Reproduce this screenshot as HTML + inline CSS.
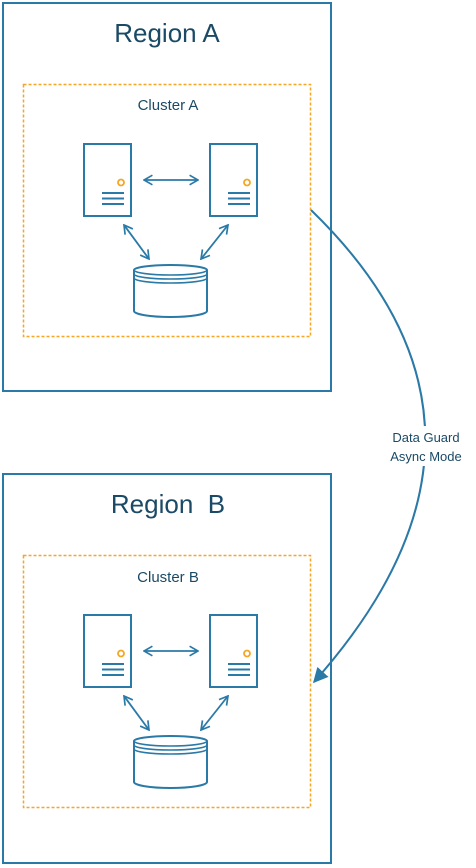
<!DOCTYPE html>
<html><head><meta charset="utf-8"><style>
html,body{margin:0;padding:0;background:#fff;}
svg{display:block;}
text{font-family:"Liberation Sans",sans-serif;fill:#1a4a66;}
</style></head><body>
<svg width="476" height="868" viewBox="0 0 476 868" xmlns="http://www.w3.org/2000/svg">
<defs>
<marker id="ah" viewBox="0 0 10 10" refX="9" refY="5" markerWidth="12" markerHeight="12" orient="auto-start-reverse" markerUnits="userSpaceOnUse">
<path d="M2,1 L9,5 L2,9" fill="none" stroke="#2a79a6" stroke-width="1.4"/>
</marker>
<marker id="fa" viewBox="0 0 10 10" refX="9" refY="5" markerWidth="15" markerHeight="15" orient="auto" markerUnits="userSpaceOnUse">
<path d="M0,0 L10,5 L0,10 z" fill="#2a79a6"/>
</marker>
<g id="cl">
<rect x="23.5" y="84.5" width="287" height="252" fill="none" stroke="#f5a623" stroke-width="1.5" stroke-dasharray="3,2"/>
<g fill="none" stroke="#2a79a6" stroke-width="2">
<rect x="84" y="144" width="47" height="72"/>
<line x1="102" y1="193" x2="124" y2="193"/><line x1="102" y1="198.5" x2="124" y2="198.5"/><line x1="102" y1="204" x2="124" y2="204"/>
<rect x="210" y="144" width="47" height="72"/>
<line x1="228" y1="193" x2="250" y2="193"/><line x1="228" y1="198.5" x2="250" y2="198.5"/><line x1="228" y1="204" x2="250" y2="204"/>
<path d="M134,270 A36.5,5 0 0 1 207,270 L207,311 A36.5,6 0 0 1 134,311 Z"/>
<path d="M134,270 A36.5,5 0 0 0 207,270" stroke-width="1.6"/>
<path d="M134,274 A36.5,5 0 0 0 207,274" stroke-width="1.6"/>
<path d="M134,278 A36.5,5 0 0 0 207,278" stroke-width="1.6"/>
<g stroke-width="1.8">
<line x1="144" y1="180" x2="198" y2="180" marker-start="url(#ah)" marker-end="url(#ah)"/>
<line x1="124" y1="225" x2="149" y2="259" marker-start="url(#ah)" marker-end="url(#ah)"/>
<line x1="228" y1="225" x2="201" y2="259" marker-start="url(#ah)" marker-end="url(#ah)"/>
</g>
</g>
<circle cx="121" cy="182.5" r="3" fill="none" stroke="#f5a623" stroke-width="1.8"/>
<circle cx="247" cy="182.5" r="3" fill="none" stroke="#f5a623" stroke-width="1.8"/>
</g>
</defs>
<rect x="3" y="3" width="328" height="388" fill="none" stroke="#2a79a6" stroke-width="2"/>
<rect x="3" y="474" width="328" height="389" fill="none" stroke="#2a79a6" stroke-width="2"/>
<text x="167" y="42" font-size="26" text-anchor="middle">Region A</text>
<text x="168" y="513" font-size="26" text-anchor="middle" xml:space="preserve">Region  B</text>
<text x="168" y="110" font-size="15" text-anchor="middle">Cluster A</text>
<text x="168" y="582" font-size="15" text-anchor="middle">Cluster B</text>
<use href="#cl"/>
<use href="#cl" transform="translate(0,471)"/>
<path d="M311,210 Q538,430 314,682" fill="none" stroke="#2a79a6" stroke-width="2" marker-end="url(#fa)"/>
<rect x="382" y="426" width="90" height="40" fill="#fff"/>
<text x="426" y="442" font-size="13" text-anchor="middle">Data Guard</text>
<text x="426" y="461" font-size="13" text-anchor="middle">Async Mode</text>
</svg>
</body></html>
